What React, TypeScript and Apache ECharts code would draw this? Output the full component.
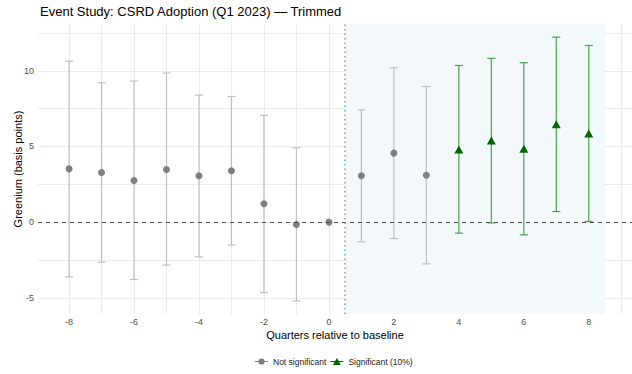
import React, { useEffect, useRef } from "react";
import * as echarts from "echarts";

const chartTitle = "Event Study: CSRD Adoption (Q1 2023) — Trimmed";
const xAxisTitle = "Quarters relative to baseline";
const yAxisTitle = "Greenium (basis points)";
const nsName = "Not significant";
const sigName = "Significant (10%)";

// Not significant estimates
const nsQuarter = [-8, -7, -6, -5, -4, -3, -2, -1, 0, 1, 2, 3];
const nsEstimate = [3.52, 3.28, 2.75, 3.48, 3.06, 3.39, 1.21, -0.16, 0, 3.06, 4.56, 3.1];
const nsLower = [-3.62, -2.65, -3.79, -2.84, -2.29, -1.52, -4.65, -5.2, 0, -1.3, -1.08, -2.76];
const nsUpper = [10.64, 9.21, 9.32, 9.85, 8.39, 8.3, 7.05, 4.91, 0, 7.42, 10.2, 8.96];

// Significant (10%) estimates
const sigQuarter = [4, 5, 6, 7, 8];
const sigEstimate = [4.8, 5.39, 4.84, 6.47, 5.86];
const sigLower = [-0.73, -0.05, -0.84, 0.7, 0.04];
const sigUpper = [10.35, 10.82, 10.53, 12.22, 11.67];

// Axes
const xTickLabels = [-8, -6, -4, -2, 0, 2, 4, 6, 8];
const xGridValues = [-8, -7, -6, -5, -4, -3, -2, -1, 0, 1, 2, 3, 4, 5, 6, 7, 8, 9];
const yTickLabels = [-5, 0, 5, 10];
const yGridValues = [-5, -2.5, 0, 2.5, 5, 7.5, 10, 12.5];
const treatmentStart = 0.5;
const treatmentEnd = 8.5;
const referenceLine = 0;

const FONT = "'Liberation Sans', Arial, Helvetica, sans-serif";
const CAP = 0.25;

function errorBarRenderer(color: string) {
  return (params: any, api: any) => {
    const x = api.value(0);
    const lo = api.value(1);
    const hi = api.value(2);
    if (lo === hi) return { type: "group", children: [] };
    const top = api.coord([x, hi]);
    const bot = api.coord([x, lo]);
    const half = api.size([CAP, 0])[0] / 2;
    const style = { stroke: color, lineWidth: 1.2 };
    return {
      type: "group",
      children: [
        { type: "line", shape: { x1: top[0], y1: top[1], x2: bot[0], y2: bot[1] }, style },
        { type: "line", shape: { x1: top[0] - half, y1: top[1], x2: top[0] + half, y2: top[1] }, style },
        { type: "line", shape: { x1: bot[0] - half, y1: bot[1], x2: bot[0] + half, y2: bot[1] }, style },
      ],
    };
  };
}

export default function App() {
  const ref = useRef<HTMLDivElement>(null);
  useEffect(() => {
    if (!ref.current) return;
    const chart = echarts.init(ref.current, null, { renderer: "svg" });
    const nsBars = nsQuarter.map((q, i) => [q, nsLower[i], nsUpper[i]]);
    const sigBars = sigQuarter.map((q, i) => [q, sigLower[i], sigUpper[i]]);
    const nsPoints = nsQuarter.map((q, i) => [q, nsEstimate[i]]);
    const sigPoints = sigQuarter.map((q, i) => [q, sigEstimate[i]]);

    chart.setOption({
      animation: false,
      backgroundColor: "#ffffff",
      title: {
        text: chartTitle,
        left: 40,
        top: 5,
        padding: 0,
        textStyle: { fontFamily: FONT, fontSize: 13, fontWeight: "normal", color: "#000" },
      },
      legend: {
        data: [
          { name: nsName, icon: "path://M0,3L13,3L13,4L0,4Z M3.4,3.5A3.1,3.1,0,1,1,9.6,3.5A3.1,3.1,0,1,1,3.4,3.5Z" },
          { name: sigName, icon: "path://M0,3L13,3L13,4L0,4Z M6.5,0L10.5,7L2.5,7Z" },
        ],
        left: 255,
        top: 357,
        itemWidth: 13,
        itemHeight: 7,
        itemGap: 4,
        padding: 0,
        textStyle: { fontFamily: FONT, fontSize: 8.5, color: "#1a1a1a" },
      },
      grid: { left: 38, right: 0, top: 24, bottom: 60, containLabel: false, outerBoundsMode: "none" },
      xAxis: {
        type: "value",
        min: -8.956,
        max: 9.331,
        name: xAxisTitle,
        nameLocation: "middle",
        nameGap: 15,
        nameMoveOverlap: false,
        nameTextStyle: { fontFamily: FONT, fontSize: 11, color: "#000" },
        axisLine: { show: false },
        axisTick: { show: false, customValues: xGridValues },
        axisLabel: {
          customValues: xTickLabels,
          margin: 3,
          fontFamily: FONT,
          fontSize: 9,
          color: "#4d4d4d",
        },
        splitLine: { show: true, lineStyle: { color: "#ebebeb", width: 1 } },
      },
      yAxis: {
        type: "value",
        min: -6.07,
        max: 13.09,
        name: yAxisTitle,
        nameLocation: "middle",
        nameGap: 15,
        nameMoveOverlap: false,
        nameTextStyle: { fontFamily: FONT, fontSize: 11, color: "#000" },
        axisLine: { show: false },
        axisTick: { show: false, customValues: yGridValues },
        axisLabel: {
          customValues: yTickLabels,
          margin: 4,
          fontFamily: FONT,
          fontSize: 9,
          color: "#4d4d4d",
        },
        splitLine: { show: true, lineStyle: { color: "#ebebeb", width: 1 } },
      },
      series: [
        {
          name: "reference",
          type: "custom",
          silent: true,
          data: [],
          renderItem: () => ({ type: "group", children: [] }),
          markArea: {
            silent: true,
            itemStyle: { color: "#f3f8fb" },
            data: [[{ xAxis: treatmentStart }, { xAxis: treatmentEnd }]],
          },
          markLine: {
            silent: true,
            symbol: "none",
            label: { show: false },
            data: [
              { yAxis: referenceLine, lineStyle: { color: "#555555", width: 1, type: [4, 4] } },
              { xAxis: treatmentStart, lineStyle: { color: "#6fa0cc", width: 1.5, type: [1.5, 3] } },
            ],
          },
          z: 1,
        },
        {
          name: "nsBars",
          type: "custom",
          silent: true,
          data: nsBars,
          encode: { x: 0, y: [1, 2] },
          renderItem: errorBarRenderer("#bfbfbf"),
          z: 2,
        },
        {
          name: "sigBars",
          type: "custom",
          silent: true,
          data: sigBars,
          encode: { x: 0, y: [1, 2] },
          renderItem: errorBarRenderer("rgba(34,139,34,0.78)"),
          z: 2,
        },
        {
          name: nsName,
          type: "scatter",
          data: nsPoints,
          symbol: "circle",
          symbolSize: 7,
          itemStyle: { color: "#7f7f7f", opacity: 1 },
          z: 3,
        },
        {
          name: sigName,
          type: "scatter",
          data: sigPoints,
          symbol: "triangle",
          symbolSize: [9, 8],
          itemStyle: { color: "#006400", opacity: 1 },
          z: 3,
        },
      ],
    });
    return () => chart.dispose();
  }, []);
  return (
    <div
      ref={ref}
      style={{ position: "absolute", left: 0, top: 0, width: 632, height: 374, background: "#fff" }}
    />
  );
}
